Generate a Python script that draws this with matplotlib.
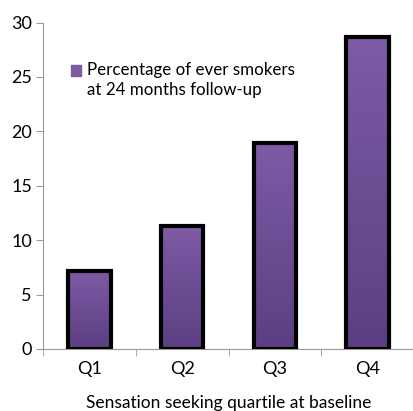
import numpy as np
import matplotlib
matplotlib.use('Agg')
import matplotlib.pyplot as plt
from matplotlib.colors import LinearSegmentedColormap

# dados
quartis = ['Q1', 'Q2', 'Q3', 'Q4']
percentual = [7.2, 11.3, 18.9, 28.7]
legenda = 'Percentage of ever smokers\nat 24 months follow-up'
titulo_x = 'Sensation seeking quartile at baseline'

plt.rcParams['font.family'] = ['Lato', 'DejaVu Sans']

fig = plt.figure(figsize=(4.14, 4.11), dpi=100)
ax = fig.add_axes([0.104, 0.151, 0.896, 0.794])

x = np.arange(len(quartis))
gradiente = LinearSegmentedColormap.from_list('roxo', ['#5c3f82', '#6c4d94', '#7d5ba5'])
barras = ax.bar(x, percentual, width=0.46, color='none', edgecolor='black', linewidth=3, zorder=3)
for b in barras:
    x0, y0 = b.get_x(), b.get_y()
    w, h = b.get_width(), b.get_height()
    img = ax.imshow(np.linspace(0, 1, 100).reshape(-1, 1), cmap=gradiente, origin='lower',
                    extent=[x0, x0 + w, y0, y0 + h], aspect='auto', zorder=2)
    img.set_clip_path(b)

ax.set_xlim(-0.5, 3.5)
ax.set_ylim(0, 30)
ax.set_yticks(range(0, 31, 5))
ax.set_xticks(x)
ax.set_xticklabels(quartis)
ax.set_xticks(np.arange(-0.5, 4, 1), minor=True)
ax.tick_params(axis='x', which='major', length=0, labelsize=13, pad=9)
ax.tick_params(axis='x', which='minor', length=5, color='#999999')
ax.tick_params(axis='y', length=5, color='#999999', labelsize=13, pad=3)
for s in ['top', 'right']:
    ax.spines[s].set_visible(False)
for s in ['left', 'bottom']:
    ax.spines[s].set_color('#999999')

ax.set_xlabel(titulo_x, fontsize=12.5, labelpad=13)

# legenda
leg = ax.legend([plt.Rectangle((0, 0), 1, 1, color='#7d5ba5')], [legenda],
                loc='upper left', bbox_to_anchor=(0.035, 0.925), frameon=False,
                fontsize=12.2, handlelength=0.6, handleheight=0.6, handletextpad=0.3)
for t in leg.get_texts():
    t.set_linespacing(1.25)
quadrado = leg.legend_handles[0]
quadrado.set_y(quadrado.get_y() + 7)

plt.savefig('out.png', dpi=100)
